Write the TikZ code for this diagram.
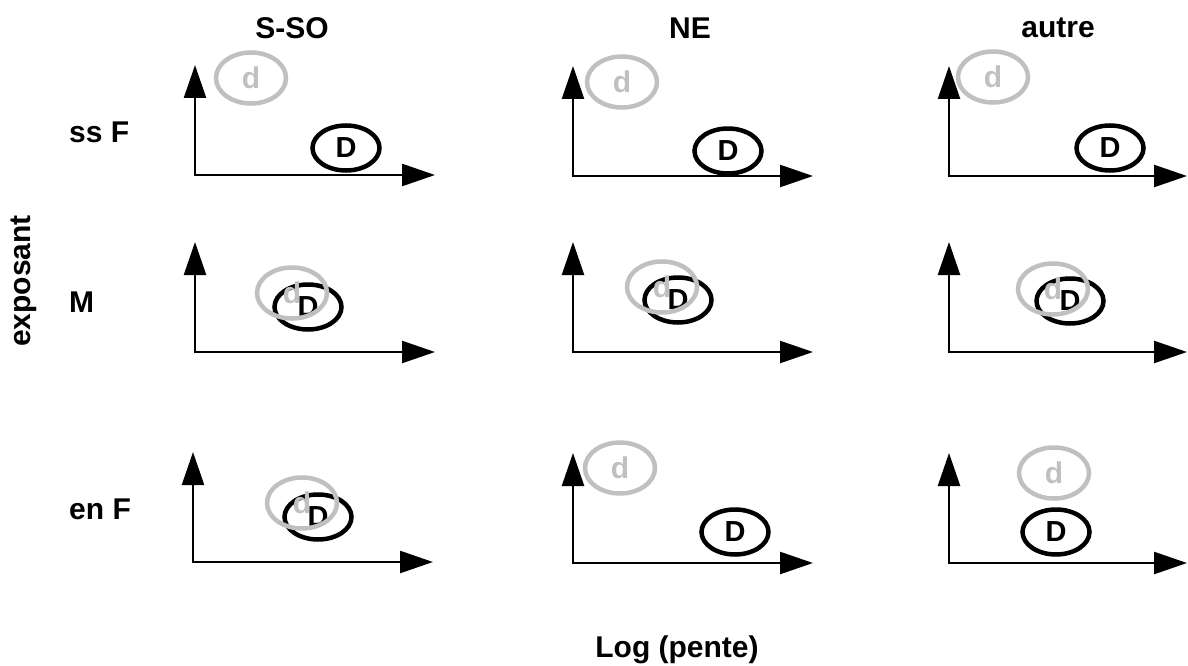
\documentclass[tikz,border=0pt]{standalone}
\usepackage{fontspec}
\setmainfont{Liberation Sans}
\usetikzlibrary{arrows.meta,shapes.geometric}
\definecolor{lgray}{RGB}{192,192,192}
\tikzset{
  axis/.style={line width=2.4pt, line join=miter,
    arrows={Triangle[length=33pt,width=22pt]-Triangle[length=33pt,width=22pt]}},
  small/.style={ellipse, draw=lgray, line width=4.5pt, text=lgray, inner sep=0pt,
    minimum width=70pt, minimum height=51pt,
    font=\fontsize{30}{30}\selectfont\bfseries},
  big/.style={ellipse, draw=black, line width=4.5pt, text=black, inner sep=0pt,
    minimum width=67pt, minimum height=45pt,
    font=\fontsize{29}{29}\selectfont\bfseries},
  lab/.style={font=\fontsize{30}{32}\selectfont\bfseries, inner sep=0pt}
}
\begin{document}
\begin{tikzpicture}[x=1pt,y=-1pt]
\useasboundingbox (0,0) rectangle (1188,666);
% column titles
\node[lab] (tSSO) at (292,28) {S-SO};
\node[lab] (tNE) at (690,28) {NE};
\node[lab] (tAutre) at (1058,28) {autre};
% row labels
\node[lab, anchor=west] (rss) at (69,132) {ss F};
\node[lab, anchor=west] (rM) at (69,302) {M};
\node[lab, anchor=west] (ren) at (69,509) {en F};
\node[lab, rotate=90] (yl) at (24,281) {exposant};
\node[lab] (xl) at (677,650) {Log (pente)};
% axes
\foreach \n/\ox/\oy/\len in {a/195/175/240, b/573/176/240, c/949/176/238,
  d/195/352/240, e/573/352/240, f/949/352/238,
  g/193/562/240, h/573/563/240, i/949/563/238}{
  \coordinate (o\n) at (\ox,\oy);
  \coordinate (y\n) at (\ox,\oy-110);
  \coordinate (x\n) at (\ox+\len,\oy);
  \draw[axis] (y\n) -- (o\n) -- (x\n);
}
% row 1
\node[big] (Da) at (346,148) {D};
\node[small] (da) at (251,78) {d};
\node[big] (Db) at (728,151) {D};
\node[small] (db) at (622,82) {d};
\node[big] (Dc) at (1110,148) {D};
\node[small] (dc) at (993,77) {d};
% row 2
\node[big] (Dd) at (308,307) {D};
\node[small] (dd) at (292,293) {d};
\node[big] (De) at (678,300) {D};
\node[small] (de) at (662,287) {d};
\node[big] (Df) at (1070,301) {D};
\node[small] (df) at (1053,289) {d};
% row 3
\node[big] (Dg) at (318,517) {D};
\node[small] (dg) at (302,503) {d};
\node[big] (Dh) at (735,532) {D};
\node[small] (dh) at (620,468) {d};
\node[big] (Di) at (1056,532) {D};
\node[small] (di) at (1054,473) {d};
\end{tikzpicture}
\end{document}
